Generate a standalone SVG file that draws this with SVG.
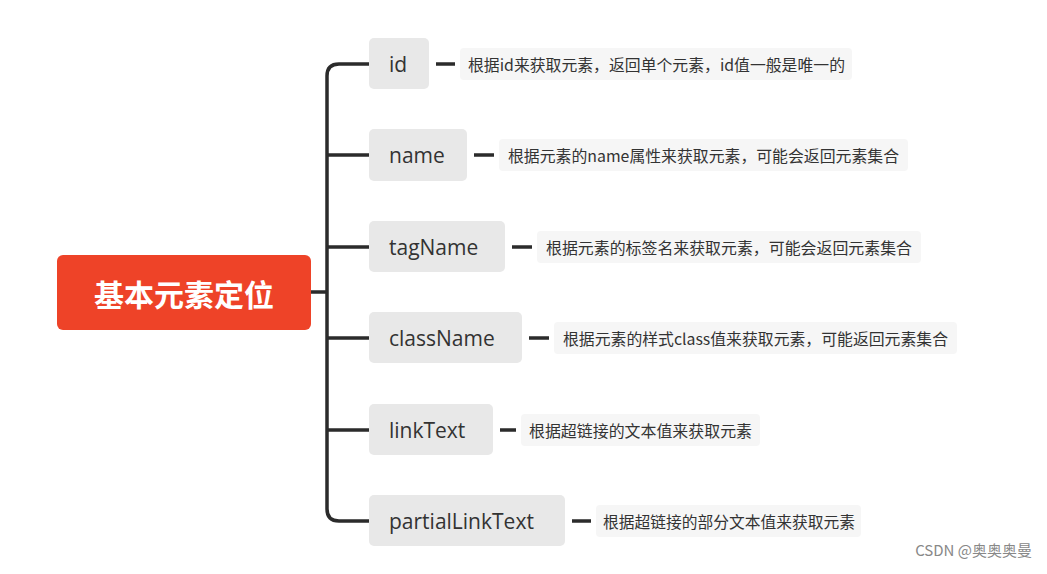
<svg xmlns="http://www.w3.org/2000/svg" width="1047" height="574" viewBox="0 0 1047 574">
<style>
.n{fill:#e8e8e8}
.nt{font-family:"Open Sans","Noto Sans",sans-serif;font-size:21px;fill:#333;dominant-baseline:central}
.d{fill:#f6f6f6}
.dt{font-family:"Noto Sans CJK SC",sans-serif;font-size:15.5px;fill:#333;dominant-baseline:central}
.c{stroke:#2b2b2b;stroke-width:3.5;fill:none}
</style>
<rect width="1047" height="574" fill="#fff"/>
<g id="connectors">
<path class="c" d="M311 292H327M369 64H339Q327 64 327 76V509Q327 521 339 521H369M327 155H369M327 247H369M327 338H369M327 430H369"/>
<path class="c" d="M436 64H455M474 155H494M512 247H532M529 338H549M500 430H516M572 521H591"/>
</g>
<g id="root"><rect x="57" y="255" width="254" height="75" rx="6" fill="#ee4328"/>
<text x="184" y="293" text-anchor="middle" dominant-baseline="central" font-family="Noto Sans CJK SC,sans-serif" font-size="30" font-weight="bold" fill="#fff">基本元素定位</text></g>
<g id="id"><rect class="n" x="369" y="38" width="60" height="51" rx="5"/><text class="nt" x="389" y="64">id</text></g>
<g id="name"><rect class="n" x="369" y="129" width="98" height="52" rx="5"/><text class="nt" x="389" y="155">name</text></g>
<g id="tagName"><rect class="n" x="369" y="221" width="136" height="51" rx="5"/><text class="nt" x="389" y="247">tagName</text></g>
<g id="className"><rect class="n" x="369" y="312" width="153" height="51" rx="5"/><text class="nt" x="389" y="338">className</text></g>
<g id="linkText"><rect class="n" x="369" y="404" width="124" height="51" rx="5"/><text class="nt" x="389" y="430">linkText</text></g>
<g id="partialLinkText"><rect class="n" x="369" y="495" width="196" height="51" rx="5"/><text class="nt" x="389" y="521">partialLinkText</text></g>
<g id="d1"><rect class="d" x="460" y="48" width="392" height="32" rx="4"/><text class="dt" x="468" y="64" textLength="377" lengthAdjust="spacingAndGlyphs">根据id来获取元素，返回单个元素，id值一般是唯一的</text></g>
<g id="d2"><rect class="d" x="499" y="139" width="409" height="32" rx="4"/><text class="dt" x="508" y="155" textLength="391" lengthAdjust="spacingAndGlyphs">根据元素的name属性来获取元素，可能会返回元素集合</text></g>
<g id="d3"><rect class="d" x="537" y="231" width="384" height="32" rx="4"/><text class="dt" x="546" y="247" textLength="366" lengthAdjust="spacingAndGlyphs">根据元素的标签名来获取元素，可能会返回元素集合</text></g>
<g id="d4"><rect class="d" x="554" y="322" width="403" height="32" rx="4"/><text class="dt" x="563" y="338" textLength="385" lengthAdjust="spacingAndGlyphs">根据元素的样式class值来获取元素，可能返回元素集合</text></g>
<g id="d5"><rect class="d" x="521" y="414" width="239" height="32" rx="4"/><text class="dt" x="529" y="430" textLength="223" lengthAdjust="spacingAndGlyphs">根据超链接的文本值来获取元素</text></g>
<g id="d6"><rect class="d" x="596" y="505" width="265" height="32" rx="4"/><text class="dt" x="603" y="521" textLength="252" lengthAdjust="spacingAndGlyphs">根据超链接的部分文本值来获取元素</text></g>
<text x="1032" y="556" text-anchor="end" font-family="Noto Sans CJK SC,sans-serif" font-size="15" fill="#888">CSDN @奥奥奥曼</text>
</svg>
